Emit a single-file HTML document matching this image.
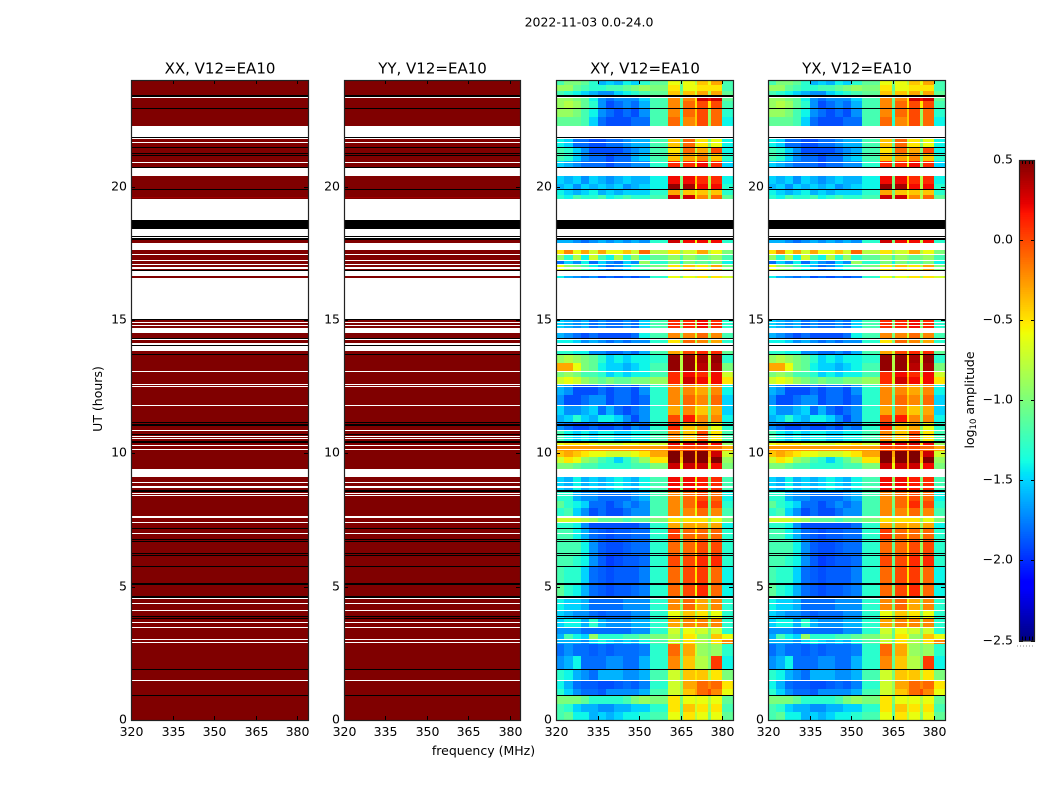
<!DOCTYPE html>
<html lang="en">
<head>
<meta charset="utf-8">
<title>2022-11-03 0.0-24.0</title>
<style>
html,body{margin:0;padding:0;background:#fff;}
svg{display:block;font-family:"DejaVu Sans","Liberation Sans",sans-serif;fill:#000;}
</style>
</head>
<body>
<svg id="chart" xmlns="http://www.w3.org/2000/svg" width="1050" height="800" viewBox="0 0 1050 800"></svg>
<script>
const freqTicks = [320, 335, 350, 365, 380];
const timeTicks = [0, 5, 10, 15, 20];
const colorTicks = [0.5, 0, -0.5, -1, -1.5, -2, -2.5];
const panelTitles = ["XX, V12=EA10", "YY, V12=EA10", "XY, V12=EA10", "YX, V12=EA10"];

/* flagged (white) and zero-amplitude (black) time ranges, hours: [high, low] */
const flaggedBands = [
[23.36,23.32],[22.275,21.86],[21.81,21.775],[21.69,21.65],[20.925,20.89],[20.71,20.4],[19.54,18.76],[18.425,18.15],[18.11,18.09],[17.9,17.625],
[17.475,17.425],[17.25,17.21],[17.09,17.05],[16.975,16.91],[16.85,16.65],[16.575,15.04],[14.93,14.875],[14.8,14.76],[14.71,14.5],[14.3,14.25],
[14.125,14.06],[14.025,13.84],[13.07,13.05],[12.59,12.55],[12.525,12.49],[11.81,11.775],[10.875,10.84],[10.66,10.625],[10.59,10.54],[10.31,10.275],
[10.16,10.125],[9.41,9.11],[8.925,8.89],[8.76,8.7],[8.51,8.475],[8.44,8.4],[7.65,7.575],[7.41,7.375],[7.01,6.975],[4.575,4.54],
[4.39,4.35],[4.125,4.09],[3.675,3.64],[3.49,3.45],[3.04,3.0],[2.925,2.89],[1.49,1.45]
];
const zeroBands = [
[23.425,23.375],[22.94,22.91],[21.85,21.81],[21.5,21.46],[21.275,21.24],[21.175,21.15],[20.74,20.71],[19.91,19.89],[18.76,18.425],[18.15,18.11],
[18.09,18.0],[16.875,16.85],[15.04,14.99],[14.32,14.3],[14.06,14.025],[13.725,13.69],[11.16,11.125],[11.09,11.04],[10.71,10.69],[10.45,10.39],
[8.61,8.55],[7.19,7.16],[6.775,6.75],[6.7,6.675],[6.25,6.225],[6.175,6.15],[5.775,5.75],[5.125,5.075],[4.64,4.59],[3.9,3.875],
[3.84,3.81],[1.91,1.89],[0.925,0.9]
];

/* auto-correlation panels: time-band edges (hours) and log10 amplitude per band */
const parallelRowEdges = [24, 19.62, 19.58, 0];
const parallelLevels = [0.5, 0.42, 0.5];

/* cross-correlation panels: channel edges (MHz), time-band edges (hours), log10 amplitude per band and channel */
const crossFreqEdges = [320,323,326,329,332,335,338,341,344,347,350,354,360.4,364.7,365.8,370,370.8,374.8,375.9,379.8,383.8];
const crossRowEdges = [24,23.8,23.6,23.4,23.2,22.95,22.6,21.86,21.5,21.27,20.95,20.4,20.1,19.9,19.7,18.76,17.625,17.475,17.25,17.09,16.85,15.04,14.71,14.28,13.84,13.69,13.4,13.1,12.85,12.6,12.2,11.8,11.45,11.16,10.85,10.45,10.3,10.1,9.85,9.65,9.11,8.55,8.2,7.95,7.65,7.41,7.19,6.75,6.2,5.75,5.1,4.6,4.1,3.8,3.5,3.22,3.0,2.85,2.4,1.9,1.45,1.15,0.92,0.6,0.3,0];
const crossLevels = [
[-1.2,-1.0,-1.0,-1.1,-1.3,-1.6,-1.5,-1.6,-1.4,-1.5,-1.3,-1.1,-0.6,-1.0,-0.6,-0.8,-0.4,-0.6,-0.3,-1.2],
[-0.9,-0.9,-1.1,-1.2,-1.3,-1.3,-1.2,-1.2,-1.1,-1.0,-0.9,-1.0,-0.5,-1.1,-0.6,-0.6,-0.5,-0.5,-0.5,-1.2],
[-1.2,-1.3,-1.4,-1.5,-1.6,-1.7,-1.7,-1.5,-1.4,-1.3,-1.2,-1.1,-0.4,-1.0,-0.4,-0.7,-0.3,-0.8,-0.3,-1.1],
[-0.9,-0.9,-1.0,-1.1,-1.4,-1.7,-1.8,-1.7,-1.7,-1.7,-1.5,-1.2,-0.2,-1.1,-0.2,-0.5,0.3,0.2,0.3,-1.1],
[-0.9,-0.8,-0.9,-1.1,-1.3,-1.7,-1.9,-1.8,-1.7,-1.8,-1.6,-1.2,-0.2,-1.1,-0.1,-0.5,0.0,-0.5,0.0,-1.2],
[-0.9,-0.9,-1.0,-1.2,-1.4,-1.7,-1.8,-1.9,-1.8,-1.9,-1.7,-1.2,-0.2,-1.3,-0.1,-0.4,0.0,-0.9,-0.1,-1.3],
[-1.1,-1.1,-1.1,-1.2,-1.5,-1.8,-1.9,-1.9,-1.9,-1.8,-1.8,-1.2,-0.1,-1.3,-0.2,-0.4,0.0,-0.9,-0.1,-1.4],
[-1.4,-1.5,-1.8,-1.8,-1.9,-1.9,-1.8,-1.8,-1.7,-1.6,-1.6,-1.2,-0.4,-1.1,-0.1,-0.7,-0.5,-1.0,-0.6,-1.4],
[-1.2,-1.3,-1.5,-1.7,-1.9,-1.9,-1.9,-1.9,-1.8,-1.7,-1.6,-1.2,-0.5,-1.1,-0.1,-0.8,-0.3,-1.0,0.0,-1.4],
[-1.2,-1.3,-1.5,-1.7,-1.8,-1.8,-1.9,-1.8,-1.8,-1.6,-1.5,-1.2,-0.4,-1.1,-0.3,-0.6,-0.2,-1.0,-0.4,-1.3],
[-1.5,-1.6,-1.7,-1.8,-1.8,-1.8,-1.9,-1.8,-1.8,-1.7,-1.7,-1.3,0.1,-1.1,0.1,-0.6,0.2,-1.0,0.1,-1.5],
[-1.5,-1.6,-1.5,-1.7,-1.5,-1.6,-1.7,-1.6,-1.5,-1.6,-1.6,-1.4,0.2,-1.0,0.2,-0.4,0.1,-0.8,0.1,-1.4],
[-1.6,-1.5,-1.7,-1.5,-1.6,-1.5,-1.6,-1.5,-1.7,-1.6,-1.5,-1.4,0.45,-1.0,0.4,-0.5,0.2,-0.8,0.2,-1.3],
[-1.4,-1.5,-1.6,-1.5,-1.4,-1.6,-1.5,-1.6,-1.5,-1.5,-1.5,-1.3,-0.3,-1.0,-0.4,-0.6,-0.4,-0.8,-0.4,-1.3],
[-1.3,-1.4,-1.2,-1.3,-1.3,-1.2,-1.4,-1.3,-1.2,-1.3,-1.3,-1.2,0.3,-0.9,0.3,-0.5,-0.2,-0.8,-0.1,-1.1],
[-1.6,-1.6,-1.7,-1.8,-1.7,-1.6,-1.7,-1.6,-1.7,-1.6,-1.7,-1.3,0.3,-1.0,0.2,-0.6,0.2,-0.8,0.2,-1.3],
[-0.5,-0.2,-0.6,-0.3,-0.7,-0.3,-0.6,-0.6,-0.4,-0.7,-0.1,-0.8,-0.5,-0.9,-0.7,-0.6,-0.3,-0.8,-0.6,-1.0],
[-0.9,-1.3,-0.8,-1.4,-0.7,-1.2,-1.4,-0.8,-1.3,-0.9,-1.3,-1.1,-0.9,-1.2,-0.9,-1.0,-1.1,-1.0,-0.9,-1.2],
[-1.8,-1.5,-1.7,-1.4,-1.8,-1.5,-1.7,-1.8,-1.5,-1.7,-0.9,-1.3,-1.0,-1.4,-1.0,-1.2,-1.1,-1.2,-1.0,-1.4],
[-0.6,-0.9,-1.0,-1.2,-1.4,-1.6,-1.8,-1.7,-1.5,-1.3,-1.2,-1.0,-0.5,-1.0,-0.4,-0.7,-0.5,-0.8,-0.3,-1.0],
[-1.4,-1.6,-1.7,-1.8,-1.7,-1.9,-1.8,-1.9,-1.8,-1.9,-1.8,-1.3,-0.6,-1.0,-0.6,-0.8,-0.5,-0.9,-0.5,-0.7],
[-1.5,-1.6,-1.7,-1.6,-1.8,-1.7,-1.8,-1.8,-1.7,-1.8,-1.5,-1.2,0.1,-1.0,0.1,-0.8,0.2,-1.0,0.1,-1.3],
[-1.6,-1.7,-1.8,-1.9,-1.8,-1.9,-1.9,-1.9,-1.9,-1.8,-1.4,-1.2,-0.2,-1.0,-0.2,-0.7,-0.1,-0.9,-0.2,-1.2],
[-1.4,-1.4,-1.5,-1.7,-1.6,-1.7,-1.8,-1.7,-1.8,-1.7,-1.7,-1.3,-0.5,-1.0,-0.1,-0.8,-0.2,-1.0,-0.3,-1.3],
[-1.3,-1.3,-1.4,-1.4,-1.7,-1.7,-1.8,-1.8,-1.7,-1.8,-1.6,-1.2,-0.3,-0.7,0.0,-0.7,0.1,-0.8,0.1,-1.1],
[-0.9,-0.8,-0.9,-1.0,-1.1,-1.3,-1.5,-1.4,-1.5,-1.4,-1.4,-1.3,0.45,-0.8,0.45,-0.5,0.4,-0.7,0.45,-1.3],
[-0.3,-0.3,-0.6,-1.0,-1.1,-1.4,-1.5,-1.5,-1.6,-1.5,-1.4,-1.2,0.45,-0.8,0.45,-0.6,0.35,-0.8,0.4,-1.0],
[-1.0,-0.9,-1.0,-1.2,-1.2,-1.3,-1.5,-1.4,-1.5,-1.4,-1.4,-1.2,0.1,-0.8,0.2,-0.4,0.1,-0.8,0.2,-0.7],
[-0.7,-0.6,-0.7,-0.9,-1.0,-1.1,-1.0,-1.1,-1.1,-1.0,-1.0,-0.9,0.1,-0.7,0.3,-0.3,0.2,-0.6,0.2,-0.5],
[-1.6,-1.7,-1.9,-1.9,-1.9,-1.8,-1.9,-1.8,-1.8,-1.9,-1.7,-1.3,-0.2,-1.0,-0.2,-0.5,-0.3,-0.9,-0.2,-1.4],
[-1.7,-1.9,-1.9,-1.8,-1.7,-1.7,-1.9,-1.8,-1.8,-1.9,-1.8,-1.3,-0.2,-1.1,-0.1,-0.4,-0.2,-1.0,-0.1,-1.5],
[-1.5,-1.7,-1.7,-1.6,-1.5,-1.8,-1.6,-1.8,-1.9,-1.8,-1.7,-1.3,-0.3,-1.2,-0.2,-0.6,-0.4,-1.0,-0.3,-1.5],
[-1.6,-1.5,-1.3,-1.5,-1.6,-1.4,-1.4,-1.5,-1.7,-1.9,-1.7,-1.3,0.0,-1.1,0.15,-0.5,-0.2,-1.0,-0.2,-1.4],
[-1.7,-1.8,-1.9,-1.9,-1.8,-1.9,-1.9,-1.8,-1.9,-1.7,-1.8,-1.3,0.1,-1.0,-0.4,-0.7,-0.3,-1.0,-0.6,-1.3],
[-1.2,-1.4,-1.5,-1.4,-1.5,-1.4,-1.4,-1.5,-1.5,-1.4,-1.4,-1.2,-0.2,-1.0,-0.4,-0.7,0.0,-0.9,-0.5,-1.2],
[-0.6,-0.5,-0.5,-0.5,-0.6,-0.7,-0.7,-0.7,-0.6,-0.6,-0.5,-0.7,0.25,-0.6,0.25,-0.4,0.3,-0.5,0.2,-0.9],
[-0.25,-0.25,-0.25,-0.25,-0.25,-0.25,-0.25,-0.25,-0.25,-0.25,-0.25,-0.25,0.0,-0.1,0.0,-0.1,0.0,-0.1,-0.1,-0.3],
[-0.4,-0.3,-0.4,-0.5,-0.6,-0.6,-0.7,-0.7,-0.7,-0.6,-0.5,-0.3,0.5,-0.3,0.5,-0.3,0.5,-0.3,0.3,-0.7],
[-0.7,-0.5,-0.6,-0.9,-1.0,-1.2,-1.3,-1.5,-1.3,-1.1,-0.9,-0.5,0.5,-0.4,0.5,-0.3,0.5,-0.4,0.5,-0.9],
[-1.0,-1.0,-1.1,-1.2,-1.2,-1.3,-1.3,-1.3,-1.3,-1.2,-1.2,-1.0,0.3,-0.6,0.3,-0.3,0.3,-0.7,0.2,-1.0],
[-1.5,-1.6,-1.4,-1.6,-1.5,-1.6,-1.5,-1.4,-1.5,-1.6,-1.4,-1.2,0.2,-0.9,0.2,-0.6,0.15,-1.0,0.1,-1.2],
[-1.3,-1.3,-1.6,-1.7,-1.7,-1.8,-1.8,-1.8,-1.8,-1.7,-1.6,-1.2,-0.2,-1.0,-0.1,-0.5,0.0,-1.0,-0.1,-1.4],
[-1.1,-1.3,-1.4,-1.5,-1.8,-1.8,-1.9,-1.8,-1.7,-1.8,-1.7,-1.2,-0.2,-1.0,-0.1,-0.5,0.1,-1.0,0.0,-1.3],
[-1.3,-1.2,-1.5,-1.7,-1.9,-1.8,-1.9,-1.9,-1.8,-1.7,-1.7,-1.2,-0.2,-1.1,-0.2,-0.6,-0.1,-1.0,-0.2,-1.2],
[-0.7,-0.7,-0.7,-0.8,-0.9,-1.1,-1.1,-1.1,-1.2,-1.1,-1.1,-1.0,-0.5,-0.8,-0.5,-0.5,-0.5,-0.9,-0.6,-1.0],
[-1.3,-1.3,-1.4,-1.7,-1.9,-1.9,-1.9,-1.9,-1.9,-1.9,-1.8,-1.3,-0.3,-1.0,-0.3,-0.5,-0.3,-0.9,-0.3,-1.4],
[-1.2,-1.2,-1.4,-1.6,-1.8,-1.85,-1.9,-1.85,-1.85,-1.8,-1.8,-1.3,0.05,-1.0,-0.1,-0.5,-0.1,-0.9,-0.1,-1.3],
[-1.2,-1.2,-1.2,-1.4,-1.7,-1.85,-1.9,-1.9,-1.85,-1.8,-1.8,-1.3,-0.1,-1.1,-0.1,-0.5,0.0,-0.9,0.0,-1.3],
[-1.2,-1.2,-1.3,-1.4,-1.7,-1.85,-1.95,-1.9,-1.85,-1.85,-1.8,-1.3,0.0,-1.1,0.0,-0.5,0.1,-0.9,0.1,-1.3],
[-1.2,-1.3,-1.3,-1.5,-1.8,-1.85,-1.9,-1.85,-1.85,-1.85,-1.75,-1.3,-0.1,-1.1,0.0,-0.5,0.05,-0.9,-0.1,-1.4],
[-1.1,-1.3,-1.4,-1.6,-1.8,-1.85,-1.9,-1.85,-1.85,-1.8,-1.75,-1.3,-0.1,-1.0,0.0,-0.6,0.1,-0.9,-0.1,-1.4],
[-1.4,-1.5,-1.5,-1.6,-1.8,-1.8,-1.8,-1.8,-1.7,-1.7,-1.7,-1.3,-0.2,-1.0,-0.1,-0.6,-0.3,-1.0,-0.2,-1.3],
[-1.5,-1.6,-1.7,-1.7,-1.8,-1.85,-1.8,-1.8,-1.8,-1.7,-1.7,-1.3,-0.6,-0.9,-0.4,-0.8,-0.5,-1.0,-0.6,-1.3],
[-1.5,-1.4,-1.4,-1.6,-1.3,-1.6,-1.7,-1.7,-1.7,-1.6,-1.6,-1.3,-0.3,-0.9,-0.2,-0.6,-0.2,-0.9,-0.2,-1.3],
[-1.7,-1.7,-1.7,-1.8,-1.8,-1.8,-1.8,-1.8,-1.8,-1.7,-1.7,-1.3,-0.7,-1.1,-0.6,-0.8,-0.7,-1.0,-0.7,-1.3],
[-1.6,-1.2,-1.4,-1.5,-0.9,-1.3,-1.3,-1.3,-1.2,-1.2,-1.1,-1.0,-0.8,-1.1,-0.5,-0.6,-0.9,-1.0,-0.4,-0.6],
[-1.6,-1.6,-1.6,-1.7,-1.5,-1.4,-1.5,-1.6,-1.5,-1.6,-1.4,-1.2,-0.7,-1.1,-0.5,-0.8,-0.8,-1.0,-0.5,-0.2],
[-1.8,-1.7,-1.8,-1.8,-1.85,-1.8,-1.85,-1.8,-1.8,-1.8,-1.75,-1.3,-0.1,-1.1,-0.3,-0.7,-0.9,-1.0,-0.9,-1.3],
[-1.7,-1.6,-1.4,-1.8,-1.8,-1.8,-1.7,-1.7,-1.8,-1.8,-1.6,-1.3,-0.2,-1.1,-0.4,-0.8,-0.8,-1.0,0.05,-1.4],
[-1.3,-1.4,-1.6,-1.7,-1.8,-1.6,-1.6,-1.6,-1.7,-1.7,-1.6,-1.2,-0.7,-1.0,-0.4,-0.5,-0.4,-0.8,-0.5,-1.0],
[-1.4,-1.6,-1.8,-1.85,-1.85,-1.9,-1.9,-1.85,-1.8,-1.85,-1.75,-1.3,-0.7,-0.9,-0.3,-0.3,-0.1,-0.2,-0.1,-0.5],
[-1.3,-1.5,-1.7,-1.8,-1.8,-1.85,-1.7,-1.7,-1.7,-1.7,-1.6,-1.2,-0.7,-0.9,-0.4,-0.3,-0.1,0.0,-0.2,-0.6],
[-1.0,-1.0,-1.0,-1.1,-1.3,-1.3,-1.3,-1.3,-1.2,-1.0,-0.9,-1.0,-0.5,-1.0,-0.6,-0.7,-0.6,-0.8,-0.6,-1.1],
[-1.2,-1.3,-1.5,-1.6,-1.6,-1.7,-1.7,-1.6,-1.6,-1.5,-1.5,-1.3,-0.5,-1.1,-0.4,-0.7,-0.5,-0.9,-0.5,-1.2],
[-1.2,-1.1,-1.4,-1.4,-1.6,-1.5,-1.6,-1.5,-1.4,-1.4,-1.3,-1.2,-0.6,-1.1,-0.5,-0.8,-0.6,-1.0,-0.6,-1.1]
];

const svg = document.getElementById('chart');
const NS = 'http://www.w3.org/2000/svg';
const panelLefts = [131, 344, 556, 768];
const panelWidths = [177, 176, 177, 177];
const plotTop = 80, plotBottom = 720;
const freqMin = 320, freqMax = 383.8, timeMin = 0, timeMax = 24;
const colorMin = -2.5, colorMax = 0.5;
const barLeft = 1019, barRight = 1035, barTop = 160, barBottom = 640.5;
const smallFont = 12.5, titleFont = 15;

function xScale(left, width, f) { return left + (f - freqMin) / (freqMax - freqMin) * width; }
function yScale(h) { return plotBottom - (h - timeMin) / (timeMax - timeMin) * (plotBottom - plotTop); }
function colorScale(v) { return barBottom - (v - colorMin) / (colorMax - colorMin) * (barBottom - barTop); }

function ramp(t, pts) {
  for (let i = 1; i < pts.length; i++) {
    if (t <= pts[i][0]) {
      const a = pts[i - 1], b = pts[i];
      return a[1] + (b[1] - a[1]) * (t - a[0]) / (b[0] - a[0]);
    }
  }
  return pts[pts.length - 1][1];
}
function jet(v) {
  const t = Math.max(0, Math.min(1, (v - colorMin) / (colorMax - colorMin)));
  const r = ramp(t, [[0,0],[0.35,0],[0.66,1],[0.89,1],[1,0.5]]);
  const g = ramp(t, [[0,0],[0.125,0],[0.375,1],[0.64,1],[0.91,0],[1,0]]);
  const b = ramp(t, [[0,0.5],[0.11,1],[0.34,1],[0.65,0],[1,0]]);
  return 'rgb(' + Math.round(r * 255) + ',' + Math.round(g * 255) + ',' + Math.round(b * 255) + ')';
}

function rect(parent, name, x, y, w, h, fill) {
  const el = document.createElementNS(NS, 'rect');
  
  
  el.setAttribute('x', x);
  el.setAttribute('y', y);
  el.setAttribute('width', w);
  el.setAttribute('height', h);
  el.setAttribute('fill', fill);
  el.setAttribute('shape-rendering', 'crispEdges');
  parent.appendChild(el);
  return el;
}
function line(parent, name, x1, y1, x2, y2, stroke, width) {
  const el = document.createElementNS(NS, 'line');
  
  
  el.setAttribute('x1', x1);
  el.setAttribute('y1', y1);
  el.setAttribute('x2', x2);
  el.setAttribute('y2', y2);
  el.setAttribute('stroke', stroke);
  el.setAttribute('stroke-width', width);
  parent.appendChild(el);
  return el;
}
function label(parent, name, x, y, str, size, anchor) {
  const el = document.createElementNS(NS, 'text');
  
  
  el.setAttribute('x', x);
  el.setAttribute('y', y);
  el.setAttribute('font-size', size);
  el.setAttribute('text-anchor', anchor);
  el.textContent = str;
  parent.appendChild(el);
  return el;
}
function group(parent, name) {
  const el = document.createElementNS(NS, 'g');
  
  
  parent.appendChild(el);
  return el;
}

function drawBands(parent, left, width, bands, name, fill) {
  bands.forEach(function (b) {
    const top = Math.round(yScale(b[0]));
    const h = Math.max(1, Math.round(yScale(b[1])) - top);
    rect(parent, name, left, top, width, h, fill);
  });
}

function drawPanel(i) {
  const left = panelLefts[i];
  const width = panelWidths[i];
  const key = panelTitles[i].slice(0, 2).toLowerCase();
  const g = group(svg, key + '-panel');
  const heat = group(g, key + '-heatmap');
  if (i < 2) {
    parallelLevels.forEach(function (v, r) {
      const top = Math.round(yScale(parallelRowEdges[r]));
      const bottom = Math.round(yScale(parallelRowEdges[r + 1]));
      rect(heat, 'heatmap-band', left, top, width, bottom - top, jet(v));
    });
  } else {
    crossLevels.forEach(function (row, r) {
      const top = Math.round(yScale(crossRowEdges[r]));
      const bottom = Math.round(yScale(crossRowEdges[r + 1]));
      row.forEach(function (v, c) {
        const x0 = Math.round(xScale(left, width, crossFreqEdges[c]));
        const x1 = Math.round(xScale(left, width, crossFreqEdges[c + 1]));
        rect(heat, 'heatmap-cell', x0, top, x1 - x0, bottom - top, jet(v));
      });
    });
  }
  drawBands(heat, left, width, flaggedBands, 'flagged-band', '#fff');
  drawBands(heat, left, width, zeroBands, 'zero-band', '#000');

  freqTicks.forEach(function (f) {
    const x = Math.round(xScale(left, width, f)) + 0.5;
    line(g, 'x-tick', x, plotBottom, x, plotBottom - 4, '#000', 1);
    line(g, 'x-tick', x, plotTop, x, plotTop + 4, '#000', 1);
    label(g, 'x-tick-label', x, 736, String(f), smallFont, 'middle');
  });
  timeTicks.forEach(function (h) {
    const y = Math.round(yScale(h)) + 0.5;
    line(g, 'y-tick', left, y, left + 4, y, '#000', 1);
    line(g, 'y-tick', left + width, y, left + width - 4, y, '#000', 1);
    label(g, 'y-tick-label', left - 4, y + 3, String(h), smallFont, 'end');
  });

  const frame = rect(g, 'plot-frame', left + 0.5, plotTop + 0.5, width, plotBottom - plotTop, 'none');
  frame.setAttribute('stroke', '#222');
  frame.setAttribute('stroke-width', '1.2');
  frame.removeAttribute('shape-rendering');

  label(g, 'panel-title', left + width / 2 + 0.5, 73.5, panelTitles[i], titleFont, 'middle');
}

label(svg, 'figure-title', 589, 26.5, '2022-11-03 0.0-24.0', smallFont, 'middle');
panelTitles.forEach(function (t, i) { drawPanel(i); });
label(svg, 'x-axis-title', 483.5, 755, 'frequency (MHz)', smallFont, 'middle');
const yTitle = label(svg, 'y-axis-title', 0, 0, 'UT (hours)', smallFont, 'middle');
yTitle.setAttribute('transform', 'translate(102,399) rotate(-90)');

/* colour bar */
const bar = group(svg, 'colorbar');
const barSteps = 256;
for (let s = 0; s < barSteps; s++) {
  const v0 = colorMin + (colorMax - colorMin) * s / barSteps;
  const v1 = colorMin + (colorMax - colorMin) * (s + 1) / barSteps;
  const top = colorScale(v1);
  rect(bar, 'colorbar-step', barLeft, top, barRight - barLeft, colorScale(v0) - top + 0.6, jet((v0 + v1) / 2));
}
colorTicks.forEach(function (v) {
  const y = Math.round(colorScale(v)) + 0.5;
  line(bar, 'colorbar-tick', barLeft, y, barLeft + 4, y, '#000', 1);
  line(bar, 'colorbar-tick', barRight, y, barRight - 4, y, '#000', 1);
  label(bar, 'colorbar-tick-label', 1013, y + 3, v.toFixed(1).replace('-', '\u2212'), smallFont, 'end');
});
[1, 2, 3, 4].forEach(function (k) {
  const x = Math.round(barLeft + (barRight - barLeft) * k / 5) + 0.5;
  line(bar, 'colorbar-edge-tick', x, barTop, x, barTop + 4, '#000', 1);
  line(bar, 'colorbar-edge-tick', x, barBottom, x, barBottom - 4, '#000', 1);
});
const barFrame = rect(bar, 'colorbar-frame', barLeft + 0.5, barTop + 0.5, barRight - barLeft - 1, barBottom - barTop, 'none');
barFrame.setAttribute('stroke', '#222');
barFrame.setAttribute('stroke-width', '1.2');
barFrame.removeAttribute('shape-rendering');
const dots = line(bar, 'colorbar-dotted-rule', 1017, 646, 1035, 646, '#888', 1);
dots.setAttribute('stroke-dasharray', '1 2');

const cbTitle = label(svg, 'colorbar-title', 0, 0, 'log', smallFont, 'middle');
cbTitle.setAttribute('transform', 'translate(974,400) rotate(-90)');
const sub = document.createElementNS(NS, 'tspan');


sub.setAttribute('font-size', '8.5');
sub.setAttribute('dy', '2');
sub.textContent = '10';
cbTitle.appendChild(sub);
const rest = document.createElementNS(NS, 'tspan');


rest.setAttribute('dy', '-2');
rest.textContent = ' amplitude';
cbTitle.appendChild(rest);
</script>
</body>
</html>
